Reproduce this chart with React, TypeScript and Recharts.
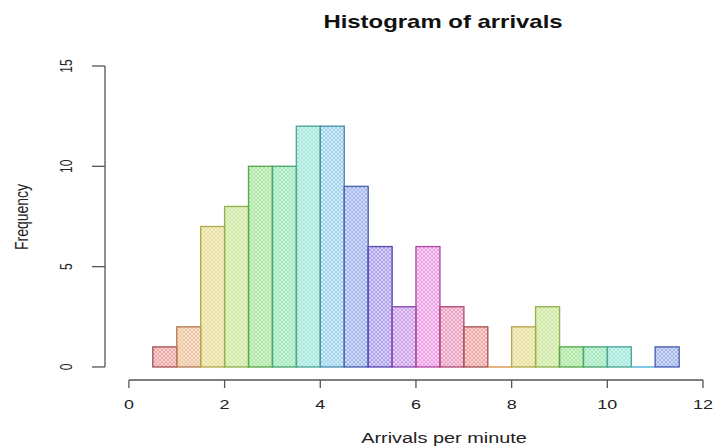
import React from 'react';
import { ComposedChart, Bar, XAxis, YAxis, ReferenceLine } from 'recharts';

// Histogram bins (start of each 0.5-wide bin) and their frequencies
const binStarts = [0.5, 1, 1.5, 2, 2.5, 3, 3.5, 4, 4.5, 5, 5.5, 6, 6.5, 7, 7.5, 8, 8.5, 9, 9.5, 10, 10.5, 11];
const counts = [1, 2, 7, 8, 10, 10, 12, 12, 9, 6, 3, 6, 3, 2, 0, 2, 3, 1, 1, 1, 0, 1];
const binWidth = 0.5;
const xTicks = [0, 2, 4, 6, 8, 10, 12];
const yTicks = [0, 5, 10, 15];

const title = 'Histogram of arrivals';
const xLabel = 'Arrivals per minute';
const yLabel = 'Frequency';

// rainbow(13)-like palette, recycled across bins
const fills = ['#E06060', '#E09656', '#D6C850', '#A8D456', '#68D456', '#56D488', '#56D4BE', '#56B4DE', '#5A7CDE', '#7058DE', '#A858DE', '#DE58CE', '#DE5892'];
const borders = ['#A85858', '#B8805A', '#B8AA50', '#94B450', '#5CAA4E', '#4EA872', '#4EA89A', '#4E92B0', '#4E64B4', '#5C4EB4', '#8A4EB4', '#B44EA8', '#B44E7A'];

const data = binStarts.map((s, i) => ({ mid: s + binWidth / 2, count: counts[i] }));

const FONT = '"Liberation Sans", Arial, Helvetica, sans-serif';
const SX = 1.38;

const HistShape = (props: any) => {
  const { x, y, width, height, index } = props;
  const ci = index % fills.length;
  if (!height || Math.abs(height) < 0.5) {
    return <line x1={x} x2={x + width} y1={y} y2={y} stroke={fills[ci]} strokeWidth={1.5} />;
  }
  return (
    <rect x={x} y={y} width={width} height={height} fill={`url(#hatch${ci})`} stroke={borders[ci]} strokeWidth={1.4} />
  );
};

const XTick = (props: any) => {
  const { x, y, payload } = props;
  return (
    <text transform={`translate(${x},${y}) scale(${SX},1)`} textAnchor="middle" dy="0.72em" fontSize={13} fontFamily={FONT} fill="#222">
      {payload.value}
    </text>
  );
};

const YTick = (props: any) => {
  const { x, y, payload } = props;
  return (
    <text transform={`translate(${x},${y}) scale(1.3,1) rotate(-90)`} textAnchor="middle" fontSize={12} fontFamily={FONT} fill="#222">
      {payload.value}
    </text>
  );
};

export default function App() {
  return (
    <div style={{ position: 'absolute', left: 0, top: 0, width: 718, height: 446, background: '#fff' }}>
      <ComposedChart width={718} height={446} data={data} margin={{ top: 66, right: 15, left: 65, bottom: 26 }} barCategoryGap={0} barGap={0}>
        <defs>
          {fills.map((c, i) => (
            <pattern key={i} id={`hatch${i}`} patternUnits="userSpaceOnUse" width={4} height={4}>
              <rect width={4} height={4} fill={c} fillOpacity={0.28} />
              <path d="M0,4 L4,0 M-1,1 L1,-1 M3,5 L5,3" stroke={c} strokeWidth={0.7} strokeOpacity={0.55} />
              <path d="M0,0 L4,4 M3,-1 L5,1 M-1,3 L1,5" stroke={c} strokeWidth={0.7} strokeOpacity={0.55} />
            </pattern>
          ))}
        </defs>
        <XAxis
          dataKey="mid"
          type="number"
          domain={[-0.5, 12]}
          ticks={xTicks}
          interval={0}
          height={40}
          axisLine={false}
          tickLine={{ stroke: '#555', strokeWidth: 1.3 }}
          tickSize={8}
          tickMargin={12}
          tick={<XTick />}
          allowDataOverflow
        />
        <YAxis
          type="number"
          domain={[-0.65, 15]}
          ticks={yTicks}
          interval={0}
          width={40}
          axisLine={false}
          tickLine={{ stroke: '#555', strokeWidth: 1.3 }}
          tickSize={13}
          tickMargin={20}
          tick={<YTick />}
          allowDataOverflow
        />
        <ReferenceLine segment={[{ x: -0.5, y: 0 }, { x: -0.5, y: 15 }]} stroke="#555" strokeWidth={1.3} ifOverflow="visible" />
        <ReferenceLine segment={[{ x: 0, y: -0.65 }, { x: 12, y: -0.65 }]} stroke="#555" strokeWidth={1.3} ifOverflow="visible" />
        <Bar dataKey="count" shape={<HistShape />} isAnimationActive={false} />
      </ComposedChart>
      <svg width={718} height={446} style={{ position: 'absolute', left: 0, top: 0, pointerEvents: 'none' }}>
        <text transform={`translate(443,28) scale(1.33,1)`} textAnchor="middle" fontSize={18} fontWeight="bold" fontFamily={FONT} fill="#111">
          {title}
        </text>
        <text transform={`translate(444,443) scale(1.42,1)`} textAnchor="middle" fontSize={14} fontFamily={FONT} fill="#222">
          {xLabel}
        </text>
        <text transform={`translate(28,217) scale(1.35,1) rotate(-90)`} textAnchor="middle" fontSize={14} fontFamily={FONT} fill="#222">
          {yLabel}
        </text>
      </svg>
    </div>
  );
}
